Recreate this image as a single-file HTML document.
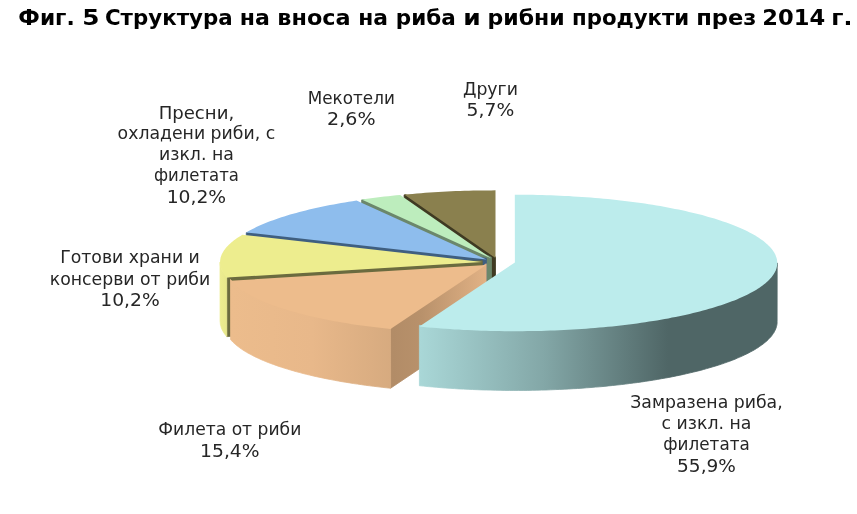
<!DOCTYPE html>
<html><head><meta charset="utf-8"><title>Фиг. 5</title>
<style>
html,body{margin:0;padding:0;background:#fff;}
body{width:857px;height:514px;overflow:hidden;position:relative;font-family:"DejaVu Sans","Liberation Sans",sans-serif;}
svg{position:absolute;left:0;top:0;display:block}
.lab text{font-size:17.3px;text-anchor:middle;fill:#262626;font-family:"DejaVu Sans","Liberation Sans",sans-serif;}
.title{font-size:21.3px;font-weight:bold;fill:#000;font-family:"DejaVu Sans","Liberation Sans",sans-serif;}
</style></head><body>
<svg width="857" height="514" viewBox="0 0 857 514">
<defs>
<linearGradient id="gc" gradientUnits="userSpaceOnUse" x1="420" y1="0" x2="668" y2="0">
<stop offset="0" stop-color="#a9d7d7"/><stop offset="0.5" stop-color="#83a7a7"/><stop offset="1" stop-color="#4f6666"/></linearGradient>
<linearGradient id="go" gradientUnits="userSpaceOnUse" x1="231" y1="0" x2="393" y2="0">
<stop offset="0" stop-color="#ecbc8c"/><stop offset="0.5" stop-color="#e8b88a"/><stop offset="1" stop-color="#d6aa7f"/></linearGradient>
<linearGradient id="gy" gradientUnits="userSpaceOnUse" x1="219" y1="0" x2="229" y2="0">
<stop offset="0" stop-color="#eded90"/><stop offset="1" stop-color="#e6e68a"/></linearGradient>
<linearGradient id="goc" gradientUnits="userSpaceOnUse" x1="393" y1="0" x2="487" y2="0">
<stop offset="0" stop-color="#b28c67"/><stop offset="0.3" stop-color="#b8916b"/><stop offset="1" stop-color="#e2b285"/></linearGradient>
</defs>
<g shape-rendering="geometricPrecision">
<path d="M495.5 256.9 L405.9 194.7 L404.1 194.9 L404.2 253.1 L495.5 317.0Z" fill="#3f3a22" stroke="#3f3a22" stroke-width="0.8" stroke-linejoin="round"/>
<path d="M491.5 257.3 L364.2 199.6 L361.6 199.9 L361.7 258.2 L491.5 317.3Z" fill="#6b876b" stroke="#6b876b" stroke-width="0.8" stroke-linejoin="round"/>
<path d="M486.4 258.3 L251.1 231.8 L246.3 232.7 L246.4 291.1 L486.4 318.3Z" fill="#3f5f80" stroke="#3f5f80" stroke-width="0.8" stroke-linejoin="round"/>
<path d="M482.3 260.7 L231.8 276.1 L226.7 277.9 L226.8 336.6 L482.3 320.7Z" fill="#6b6b3f" stroke="#6b6b3f" stroke-width="0.8" stroke-linejoin="round"/>
<path d="M226.7 276.4 L225.8 275.3 L224.9 274.3 L224.1 273.3 L223.4 272.3 L222.8 271.3 L222.2 270.3 L221.7 269.3 L221.2 268.3 L220.9 267.3 L220.6 266.3 L220.3 265.3 L220.2 264.3 L220.1 263.2 L220.0 262.2 L220.1 321.1 L220.2 322.2 L220.3 323.3 L220.4 324.4 L220.7 325.5 L221.0 326.6 L221.3 327.8 L221.8 328.9 L222.3 330.0 L222.9 331.1 L223.5 332.2 L224.2 333.3 L225.0 334.4 L225.9 335.5 L226.8 336.6Z" fill="url(#gy)" stroke="url(#gy)" stroke-width="0.8" stroke-linejoin="round"/>
<path d="M486.2 263.8 L392.4 326.5 L390.5 329.3 L390.6 388.2 L486.2 323.9Z" fill="url(#goc)" stroke="url(#goc)" stroke-width="0.8" stroke-linejoin="round"/>
<path d="M390.5 327.8 L386.3 327.4 L382.1 326.9 L377.9 326.4 L373.8 325.9 L369.7 325.4 L365.6 324.9 L361.6 324.3 L357.6 323.8 L353.6 323.2 L349.7 322.6 L345.8 321.9 L342.0 321.3 L338.2 320.6 L334.5 320.0 L330.8 319.3 L327.1 318.6 L323.5 317.8 L320.0 317.1 L316.5 316.3 L313.0 315.5 L309.6 314.8 L306.3 314.0 L303.0 313.1 L299.8 312.3 L296.6 311.4 L293.5 310.6 L290.4 309.7 L287.4 308.8 L284.5 307.9 L281.6 307.0 L278.8 306.1 L276.0 305.1 L273.3 304.2 L270.7 303.2 L268.1 302.2 L265.6 301.2 L263.2 300.2 L260.9 299.2 L258.6 298.2 L256.3 297.2 L254.2 296.1 L252.1 295.1 L250.1 294.0 L248.1 292.9 L246.2 291.9 L244.4 290.8 L242.7 289.7 L241.1 288.6 L239.5 287.5 L238.0 286.4 L236.5 285.2 L235.2 284.1 L233.9 283.0 L232.7 281.8 L231.6 280.7 L230.5 279.5 L230.6 339.7 L231.7 340.8 L232.8 342.0 L234.0 343.1 L235.3 344.3 L236.6 345.4 L238.1 346.5 L239.6 347.7 L241.2 348.8 L242.8 349.9 L244.5 351.0 L246.3 352.1 L248.2 353.2 L250.2 354.2 L252.2 355.3 L254.3 356.4 L256.4 357.4 L258.7 358.4 L260.9 359.5 L263.3 360.5 L265.7 361.5 L268.2 362.5 L270.8 363.5 L273.4 364.4 L276.1 365.4 L278.9 366.4 L281.7 367.3 L284.6 368.2 L287.5 369.1 L290.5 370.0 L293.6 370.9 L296.7 371.8 L299.9 372.6 L303.1 373.5 L306.4 374.3 L309.7 375.1 L313.1 375.9 L316.6 376.7 L320.1 377.4 L323.6 378.2 L327.2 378.9 L330.9 379.6 L334.5 380.3 L338.3 381.0 L342.1 381.7 L345.9 382.3 L349.8 382.9 L353.7 383.6 L357.6 384.1 L361.6 384.7 L365.7 385.3 L369.7 385.8 L373.8 386.3 L378.0 386.8 L382.1 387.3 L386.3 387.8 L390.6 388.2Z" fill="url(#go)" stroke="url(#go)" stroke-width="0.8" stroke-linejoin="round"/>
<path d="M777.2 262.9 L777.2 264.0 L777.1 265.0 L776.9 266.1 L776.6 267.2 L776.3 268.3 L775.9 269.4 L775.3 270.5 L774.8 271.6 L774.1 272.6 L773.3 273.7 L772.5 274.8 L771.6 275.9 L770.6 277.0 L769.6 278.2 L768.4 279.3 L767.2 280.5 L765.9 281.6 L764.5 282.8 L763.1 283.9 L761.6 285.0 L760.0 286.2 L758.3 287.3 L756.5 288.4 L754.7 289.5 L752.8 290.5 L750.8 291.6 L748.8 292.7 L746.7 293.8 L744.5 294.8 L742.2 295.8 L739.9 296.9 L737.5 297.9 L735.0 298.9 L732.5 299.9 L729.9 300.9 L727.3 301.9 L724.5 302.8 L721.7 303.8 L718.9 304.7 L716.0 305.6 L713.0 306.5 L709.9 307.4 L706.8 308.3 L703.7 309.2 L700.4 310.0 L697.2 310.9 L693.8 311.7 L690.4 312.5 L687.0 313.3 L683.5 314.1 L679.9 314.8 L676.3 315.6 L672.7 316.3 L669.0 317.0 L665.2 317.7 L661.5 318.4 L657.6 319.1 L653.7 319.7 L649.8 320.3 L645.8 320.9 L641.8 321.5 L637.8 322.1 L633.7 322.6 L629.6 323.2 L625.4 323.7 L621.2 324.2 L617.0 324.7 L612.7 325.1 L608.5 325.5 L604.1 326.0 L599.8 326.4 L595.4 326.7 L591.0 327.1 L586.6 327.4 L582.2 327.7 L577.7 328.0 L573.2 328.3 L568.7 328.6 L564.2 328.8 L559.7 329.0 L555.1 329.2 L550.6 329.4 L546.0 329.5 L541.4 329.7 L536.9 329.8 L532.3 329.9 L527.7 329.9 L523.1 330.0 L518.5 330.0 L513.9 330.0 L509.3 330.0 L504.7 330.0 L500.1 329.9 L495.5 329.8 L490.9 329.7 L486.3 329.6 L481.7 329.5 L477.1 329.3 L472.6 329.1 L468.1 328.9 L463.5 328.7 L459.0 328.4 L454.5 328.2 L450.1 327.9 L445.6 327.6 L441.2 327.3 L436.8 326.9 L432.4 326.5 L428.0 326.2 L423.7 325.8 L419.4 325.3 L419.4 385.7 L423.7 386.1 L428.1 386.6 L432.4 386.9 L436.8 387.3 L441.2 387.7 L445.6 388.0 L450.1 388.3 L454.6 388.6 L459.0 388.9 L463.5 389.1 L468.1 389.3 L472.6 389.5 L477.2 389.7 L481.7 389.9 L486.3 390.0 L490.9 390.1 L495.5 390.2 L500.1 390.3 L504.6 390.4 L509.3 390.4 L513.9 390.4 L518.5 390.4 L523.1 390.4 L527.7 390.4 L532.3 390.3 L536.8 390.2 L541.4 390.1 L546.0 390.0 L550.6 389.8 L555.1 389.6 L559.7 389.4 L564.2 389.2 L568.7 389.0 L573.2 388.7 L577.7 388.5 L582.1 388.2 L586.6 387.8 L591.0 387.5 L595.4 387.1 L599.8 386.8 L604.1 386.4 L608.4 385.9 L612.7 385.5 L617.0 385.0 L621.2 384.6 L625.4 384.1 L629.5 383.5 L633.6 383.0 L637.7 382.5 L641.8 381.9 L645.8 381.3 L649.7 380.7 L653.7 380.1 L657.5 379.4 L661.4 378.7 L665.2 378.1 L668.9 377.4 L672.6 376.7 L676.3 375.9 L679.9 375.2 L683.4 374.4 L686.9 373.6 L690.4 372.8 L693.7 372.0 L697.1 371.2 L700.4 370.4 L703.6 369.5 L706.7 368.6 L709.8 367.7 L712.9 366.8 L715.9 365.9 L718.8 365.0 L721.6 364.1 L724.4 363.1 L727.2 362.1 L729.8 361.2 L732.4 360.2 L735.0 359.2 L737.4 358.1 L739.8 357.1 L742.1 356.1 L744.4 355.0 L746.6 354.0 L748.7 352.9 L750.7 351.8 L752.7 350.8 L754.6 349.7 L756.4 348.6 L758.2 347.5 L759.8 346.3 L761.4 345.2 L763.0 344.1 L764.4 342.9 L765.8 341.8 L767.1 340.7 L768.3 339.5 L769.4 338.3 L770.5 337.2 L771.5 336.0 L772.4 334.8 L773.2 333.6 L774.0 332.5 L774.6 331.3 L775.2 330.1 L775.7 328.9 L776.2 327.7 L776.5 326.5 L776.8 325.3 L777.0 324.1 L777.1 322.9 L777.1 321.7Z" fill="url(#gc)" stroke="url(#gc)" stroke-width="0.8" stroke-linejoin="round"/>
<path d="M514.9 262.5 L514.8 194.7 L519.3 194.7 L523.9 194.7 L528.4 194.8 L532.9 194.8 L537.4 194.9 L542.0 195.0 L546.5 195.2 L551.0 195.3 L555.4 195.5 L559.9 195.7 L564.4 195.9 L568.8 196.1 L573.2 196.4 L577.7 196.7 L582.0 196.9 L586.4 197.3 L590.8 197.6 L595.1 197.9 L599.4 198.3 L603.7 198.7 L607.9 199.1 L612.2 199.5 L616.4 200.0 L620.5 200.5 L624.7 200.9 L628.8 201.4 L632.8 202.0 L636.9 202.5 L640.9 203.1 L644.8 203.6 L648.7 204.2 L652.6 204.8 L656.5 205.5 L660.3 206.1 L664.0 206.8 L667.7 207.5 L671.4 208.2 L675.0 208.9 L678.6 209.6 L682.1 210.3 L685.6 211.1 L689.0 211.9 L692.4 212.7 L695.7 213.5 L698.9 214.3 L702.2 215.1 L705.3 216.0 L708.4 216.9 L711.4 217.7 L714.4 218.6 L717.3 219.5 L720.2 220.5 L723.0 221.4 L725.7 222.3 L728.4 223.3 L731.0 224.3 L733.6 225.2 L736.0 226.2 L738.4 227.2 L740.8 228.2 L743.1 229.3 L745.3 230.3 L747.4 231.3 L749.5 232.4 L751.5 233.5 L753.4 234.5 L755.3 235.6 L757.1 236.7 L758.8 237.8 L760.4 238.9 L762.0 240.0 L763.5 241.1 L764.9 242.3 L766.2 243.4 L767.5 244.5 L768.7 245.7 L769.8 246.8 L770.9 248.0 L771.8 249.1 L772.7 250.3 L773.5 251.5 L774.2 252.6 L774.9 253.8 L775.5 255.0 L775.9 256.2 L776.4 257.4 L776.7 258.5 L777.0 259.7 L777.1 260.9 L777.2 262.1 L777.2 263.3 L777.2 264.5 L777.0 265.7 L776.8 266.8 L776.5 268.0 L776.1 269.2 L775.7 270.4 L775.2 271.6 L774.5 272.8 L773.8 273.9 L773.1 275.1 L772.2 276.3 L771.3 277.4 L770.3 278.6 L769.2 279.7 L768.0 280.9 L766.8 282.0 L765.5 283.2 L764.1 284.3 L762.6 285.4 L761.1 286.6 L759.5 287.7 L757.8 288.8 L756.0 289.9 L754.2 291.0 L752.3 292.0 L750.3 293.1 L748.2 294.2 L746.1 295.2 L743.9 296.3 L741.6 297.3 L739.3 298.3 L736.9 299.4 L734.4 300.4 L731.9 301.3 L729.3 302.3 L726.6 303.3 L723.9 304.2 L721.1 305.2 L718.2 306.1 L715.3 307.0 L712.3 307.9 L709.2 308.8 L706.1 309.7 L703.0 310.6 L699.7 311.4 L696.5 312.2 L693.1 313.1 L689.7 313.9 L686.3 314.7 L682.8 315.4 L679.2 316.2 L675.6 316.9 L672.0 317.6 L668.3 318.4 L664.6 319.0 L660.8 319.7 L656.9 320.4 L653.1 321.0 L649.1 321.6 L645.2 322.2 L641.2 322.8 L637.1 323.4 L633.1 323.9 L628.9 324.4 L624.8 325.0 L620.6 325.4 L616.4 325.9 L612.2 326.4 L607.9 326.8 L603.6 327.2 L599.2 327.6 L594.9 328.0 L590.5 328.3 L586.1 328.7 L581.7 329.0 L577.2 329.3 L572.7 329.5 L568.3 329.8 L563.8 330.0 L559.2 330.2 L554.7 330.4 L550.2 330.6 L545.6 330.8 L541.0 330.9 L536.5 331.0 L531.9 331.1 L527.3 331.1 L522.7 331.2 L518.1 331.2 L513.5 331.2 L509.0 331.2 L504.4 331.2 L499.8 331.1 L495.2 331.0 L490.6 330.9 L486.1 330.8 L481.5 330.7 L477.0 330.5 L472.4 330.3 L467.9 330.1 L463.4 329.9 L458.9 329.6 L454.4 329.4 L450.0 329.1 L445.5 328.8 L441.1 328.5 L436.7 328.1 L432.4 327.7 L428.0 327.4 L423.7 327.0 L419.4 326.5Z" fill="#bcecec"/>
<path d="M486.2 265.0 L390.5 329.0 L386.3 328.6 L382.1 328.1 L377.9 327.6 L373.8 327.1 L369.7 326.6 L365.6 326.1 L361.6 325.5 L357.6 325.0 L353.6 324.4 L349.7 323.8 L345.8 323.1 L342.0 322.5 L338.2 321.8 L334.5 321.2 L330.8 320.5 L327.1 319.8 L323.5 319.0 L320.0 318.3 L316.5 317.5 L313.0 316.7 L309.6 316.0 L306.3 315.2 L303.0 314.3 L299.8 313.5 L296.6 312.6 L293.5 311.8 L290.4 310.9 L287.4 310.0 L284.5 309.1 L281.6 308.2 L278.8 307.3 L276.0 306.3 L273.3 305.4 L270.7 304.4 L268.1 303.4 L265.6 302.4 L263.2 301.4 L260.9 300.4 L258.6 299.4 L256.3 298.4 L254.2 297.3 L252.1 296.3 L250.1 295.2 L248.1 294.1 L246.2 293.1 L244.4 292.0 L242.7 290.9 L241.1 289.8 L239.5 288.7 L238.0 287.6 L236.5 286.4 L235.2 285.3 L233.9 284.2 L232.7 283.0 L231.6 281.9 L230.5 280.7Z" fill="#edbc8c"/>
<path d="M482.3 261.9 L226.7 277.6 L225.7 276.5 L224.8 275.3 L224.0 274.1 L223.2 273.0 L222.6 271.8 L222.0 270.6 L221.5 269.4 L221.0 268.3 L220.7 267.1 L220.4 265.9 L220.2 264.7 L220.1 263.5 L220.0 262.4 L220.1 261.2 L220.2 260.0 L220.4 258.8 L220.6 257.6 L221.0 256.5 L221.4 255.3 L221.9 254.1 L222.5 252.9 L223.2 251.8 L223.9 250.6 L224.7 249.4 L225.6 248.3 L226.6 247.1 L227.7 246.0 L228.8 244.8 L230.0 243.7 L231.3 242.6 L232.6 241.4 L234.0 240.3 L235.5 239.2 L237.1 238.1 L238.8 237.0 L240.5 235.9 L242.3 234.8Z" fill="#eded8e"/>
<path d="M486.4 259.5 L246.3 232.4 L248.2 231.3 L250.1 230.3 L252.1 229.2 L254.2 228.2 L256.3 227.1 L258.5 226.1 L260.8 225.1 L263.2 224.1 L265.6 223.1 L268.0 222.1 L270.6 221.1 L273.2 220.2 L275.9 219.2 L278.6 218.3 L281.4 217.3 L284.2 216.4 L287.1 215.5 L290.1 214.6 L293.1 213.8 L296.2 212.9 L299.4 212.1 L302.6 211.2 L305.8 210.4 L309.1 209.6 L312.5 208.8 L315.9 208.0 L319.4 207.3 L322.9 206.6 L326.4 205.8 L330.0 205.1 L333.7 204.4 L337.4 203.7 L341.1 203.1 L344.9 202.4 L348.7 201.8 L352.6 201.2 L356.5 200.6Z" fill="#8ebded"/>
<path d="M491.5 258.5 L361.6 199.6 L365.3 199.1 L369.1 198.6 L372.9 198.1 L376.7 197.6 L380.5 197.1 L384.4 196.6 L388.3 196.2 L392.2 195.8 L396.2 195.3 L400.2 194.9Z" fill="#bdedbd"/>
<path d="M495.5 258.1 L404.1 194.6 L408.3 194.2 L412.5 193.9 L416.7 193.5 L421.0 193.2 L425.3 192.8 L429.6 192.5 L433.9 192.3 L438.2 192.0 L442.5 191.8 L446.9 191.5 L451.3 191.3 L455.7 191.1 L460.1 191.0 L464.5 190.8 L468.9 190.7 L473.3 190.6 L477.7 190.5 L482.2 190.4 L486.6 190.4 L491.0 190.4 L495.5 190.3Z" fill="#8a804e"/>
</g>
<text class="title" y="24.9"><tspan x="18.38" textLength="56.32" lengthAdjust="spacingAndGlyphs">Фиг.</tspan> <tspan x="82.30" textLength="17.25" lengthAdjust="spacingAndGlyphs">5</tspan> <tspan x="104.92" textLength="127.70" lengthAdjust="spacingAndGlyphs">Структура</tspan> <tspan x="239.84" textLength="30.09" lengthAdjust="spacingAndGlyphs">на</tspan> <tspan x="277.30" textLength="73.32" lengthAdjust="spacingAndGlyphs">вноса</tspan> <tspan x="358.15" textLength="29.78" lengthAdjust="spacingAndGlyphs">на</tspan> <tspan x="395.84" textLength="60.01" lengthAdjust="spacingAndGlyphs">риба</tspan> <tspan x="463.22" textLength="17.48" lengthAdjust="spacingAndGlyphs">и</tspan> <tspan x="487.45" textLength="77.25" lengthAdjust="spacingAndGlyphs">рибни</tspan> <tspan x="571.99" textLength="117.25" lengthAdjust="spacingAndGlyphs">продукти</tspan> <tspan x="696.22" textLength="60.25" lengthAdjust="spacingAndGlyphs">през</tspan> <tspan x="762.30" textLength="62.85" lengthAdjust="spacingAndGlyphs">2014</tspan> <tspan x="831.22" textLength="21.10" lengthAdjust="spacingAndGlyphs">г.</tspan></text>
<g class="lab">
<text x="196.4" y="118.5" textLength="75.5" lengthAdjust="spacingAndGlyphs">Пресни,</text>
<text x="196.4" y="139.3">охладени риби, с</text>
<text x="196.4" y="160.2">изкл. на</text>
<text x="196.4" y="181.2" textLength="85.0" lengthAdjust="spacingAndGlyphs">филетата</text>
<text x="196.4" y="202.5" textLength="59.5" lengthAdjust="spacingAndGlyphs">10,2%</text>
<text x="351.3" y="104.1" textLength="87.0" lengthAdjust="spacingAndGlyphs">Мекотели</text>
<text x="351.3" y="125.4" textLength="48.5" lengthAdjust="spacingAndGlyphs">2,6%</text>
<text x="490.4" y="94.8">Други</text>
<text x="490.4" y="115.8" textLength="47.7" lengthAdjust="spacingAndGlyphs">5,7%</text>
<text x="130.0" y="263.3">Готови храни и</text>
<text x="130.0" y="284.7">консерви от риби</text>
<text x="130.0" y="305.7" textLength="59.5" lengthAdjust="spacingAndGlyphs">10,2%</text>
<text x="229.8" y="435.1" textLength="143.0" lengthAdjust="spacingAndGlyphs">Филета от риби</text>
<text x="229.8" y="456.6" textLength="59.5" lengthAdjust="spacingAndGlyphs">15,4%</text>
<text x="706.5" y="407.6">Замразена риба,</text>
<text x="706.5" y="428.9">с изкл. на</text>
<text x="706.5" y="450.4" textLength="86.5" lengthAdjust="spacingAndGlyphs">филетата</text>
<text x="706.5" y="471.7" textLength="58.8" lengthAdjust="spacingAndGlyphs">55,9%</text>
</g>
</svg>
</body></html>
